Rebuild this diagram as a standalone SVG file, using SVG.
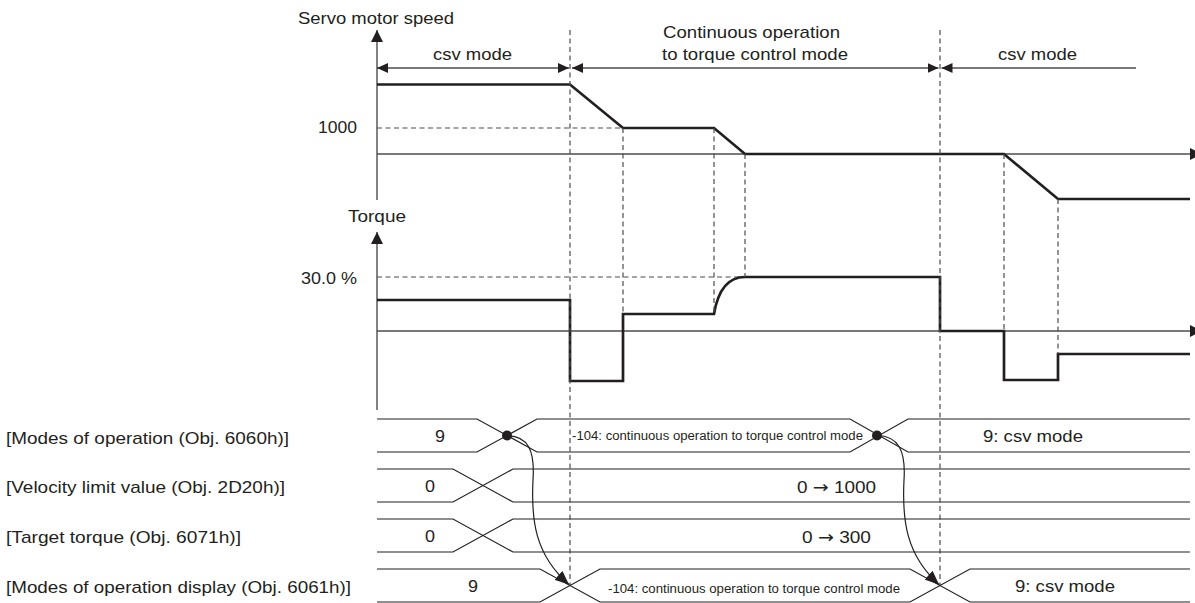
<svg xmlns="http://www.w3.org/2000/svg" width="1195" height="603" viewBox="0 0 1195 603">
<style>
text{font-family:"Liberation Sans",Arial,sans-serif;fill:#231f20;font-size:17px}
.sm{font-size:12px}
.arr{font-family:"DejaVu Sans",sans-serif}
.axis{stroke:#4d4d4d;stroke-width:1.4;fill:none}
.sig{stroke:#231f20;stroke-width:2.7;fill:none;stroke-linejoin:miter}
.dash{stroke:#4d4d4d;stroke-width:1.2;stroke-dasharray:5 3.5;fill:none}
.row{stroke:#231f20;stroke-width:1.2;fill:none}
.span{stroke:#4d4d4d;stroke-width:1.4;fill:none}
.link{stroke:#231f20;stroke-width:1.2;fill:none}
</style>
<defs>
<marker id="ah" viewBox="0 0 11 10" refX="11" refY="5" markerWidth="11" markerHeight="10" orient="auto-start-reverse" markerUnits="userSpaceOnUse"><path d="M0,0 L11,5 L0,10 Z" fill="#231f20"/></marker>
<marker id="ax" viewBox="0 0 12 12" refX="12" refY="6" markerWidth="12" markerHeight="12" orient="auto" markerUnits="userSpaceOnUse"><path d="M0,0 L12,6 L0,12 Z" fill="#231f20"/></marker>
<marker id="lk" viewBox="0 0 14 12" refX="14" refY="6" markerWidth="14" markerHeight="12" orient="auto" markerUnits="userSpaceOnUse"><path d="M0,0 L14,6 L0,12 Z" fill="#231f20"/></marker>
</defs>

<g id="speed-chart">
<text x="298" y="24" textLength="156" lengthAdjust="spacingAndGlyphs">Servo motor speed</text>
<line class="axis" x1="377" y1="200" x2="377" y2="30" marker-end="url(#ax)"/>
<line class="axis" x1="377" y1="154" x2="1202" y2="154" marker-end="url(#ax)"/>
<text x="318" y="133" textLength="39" lengthAdjust="spacingAndGlyphs">1000</text>
<path class="dash" d="M377,128 H623"/>
<path class="sig" d="M377,84.5 L570,84.5 L623,128 L714,128 L745,154 L1004,154 L1058,199 L1190,199"/>
</g>

<g id="torque-chart">
<text x="348" y="222" textLength="58" lengthAdjust="spacingAndGlyphs">Torque</text>
<line class="axis" x1="377" y1="410" x2="377" y2="232" marker-end="url(#ax)"/>
<line class="axis" x1="377" y1="331" x2="1202" y2="331" marker-end="url(#ax)"/>
<text x="301" y="284" textLength="56" lengthAdjust="spacingAndGlyphs">30.0 %</text>
<path class="dash" d="M377,277 H745"/>
<path class="sig" d="M377,300 L570,300 L570,381 L623,381 L623,314 L714,314 C718,290 728,277 745,277 L940,277 L940,331 L1004,331 L1004,380 L1058,380 L1058,354 L1190,354"/>
</g>

<g id="time-markers">
<path class="dash" d="M570,30 V586 M940,30 V586 M623,128 V314 M714,128 V314 M745,154 V277 M1004,154 V331 M1058,199 V354"/>
</g>

<g id="mode-spans">
<line class="span" x1="377" y1="68" x2="569" y2="68" marker-start="url(#ah)" marker-end="url(#ah)"/>
<line class="span" x1="572" y1="68" x2="938.5" y2="68" marker-start="url(#ah)" marker-end="url(#ah)"/>
<line class="span" x1="941.5" y1="68" x2="1136" y2="68" marker-start="url(#ah)"/>
<text x="433" y="60" textLength="79" lengthAdjust="spacingAndGlyphs">csv mode</text>
<text x="663" y="38" textLength="177" lengthAdjust="spacingAndGlyphs">Continuous operation</text>
<text x="662" y="60" textLength="186" lengthAdjust="spacingAndGlyphs">to torque control mode</text>
<text x="998" y="60" textLength="79" lengthAdjust="spacingAndGlyphs">csv mode</text>
</g>

<g id="row-modes-of-operation">
<text x="6" y="444" textLength="283" lengthAdjust="spacingAndGlyphs">[Modes of operation (Obj. 6060h)]</text>
<polyline class="row" points="377,419 477,419 537,452 850,452 908,419 1190,419"/>
<polyline class="row" points="377,452 477,452 537,419 850,419 908,452 1190,452"/>
<text x="435" y="442" textLength="10" lengthAdjust="spacingAndGlyphs">9</text>
<text class="sm" x="572" y="440" textLength="291" lengthAdjust="spacingAndGlyphs">-104: continuous operation to torque control mode</text>
<text x="983" y="442" textLength="100" lengthAdjust="spacingAndGlyphs">9: csv mode</text>
<circle cx="507" cy="435.5" r="5" fill="#231f20"/>
<circle cx="877" cy="435.5" r="5" fill="#231f20"/>
</g>

<g id="row-velocity-limit">
<text x="6" y="493" textLength="279" lengthAdjust="spacingAndGlyphs">[Velocity limit value (Obj. 2D20h)]</text>
<polyline class="row" points="377,469 453,469 513,502 1190,502"/>
<polyline class="row" points="377,502 453,502 513,469 1190,469"/>
<text x="425" y="492" textLength="10" lengthAdjust="spacingAndGlyphs">0</text>
<text x="797" y="493" textLength="79" lengthAdjust="spacingAndGlyphs">0 <tspan class="arr">→</tspan> 1000</text>
</g>

<g id="row-target-torque">
<text x="6" y="543" textLength="235" lengthAdjust="spacingAndGlyphs">[Target torque (Obj. 6071h)]</text>
<polyline class="row" points="377,519 453,519 513,552 1190,552"/>
<polyline class="row" points="377,552 453,552 513,519 1190,519"/>
<text x="425" y="542" textLength="10" lengthAdjust="spacingAndGlyphs">0</text>
<text x="802" y="543" textLength="69" lengthAdjust="spacingAndGlyphs">0 <tspan class="arr">→</tspan> 300</text>
</g>

<g id="row-modes-display">
<text x="6" y="593" textLength="345" lengthAdjust="spacingAndGlyphs">[Modes of operation display (Obj. 6061h)]</text>
<polyline class="row" points="377,569 540,569 600,602 910,602 970,569 1190,569"/>
<polyline class="row" points="377,602 540,602 600,569 910,569 970,602 1190,602"/>
<text x="468" y="592" textLength="10" lengthAdjust="spacingAndGlyphs">9</text>
<text class="sm" x="608" y="593" textLength="292" lengthAdjust="spacingAndGlyphs">-104: continuous operation to torque control mode</text>
<text x="1015" y="592" textLength="100" lengthAdjust="spacingAndGlyphs">9: csv mode</text>
</g>

<g id="connectors">
<path class="link" d="M507,435.5 C528,436 535,450 533,480 C531,520 535,555 569,584.5" marker-end="url(#lk)"/>
<path class="link" d="M877,435.5 C898,436 906,450 904,480 C902,520 906,555 939,584.5" marker-end="url(#lk)"/>
</g>
</svg>
